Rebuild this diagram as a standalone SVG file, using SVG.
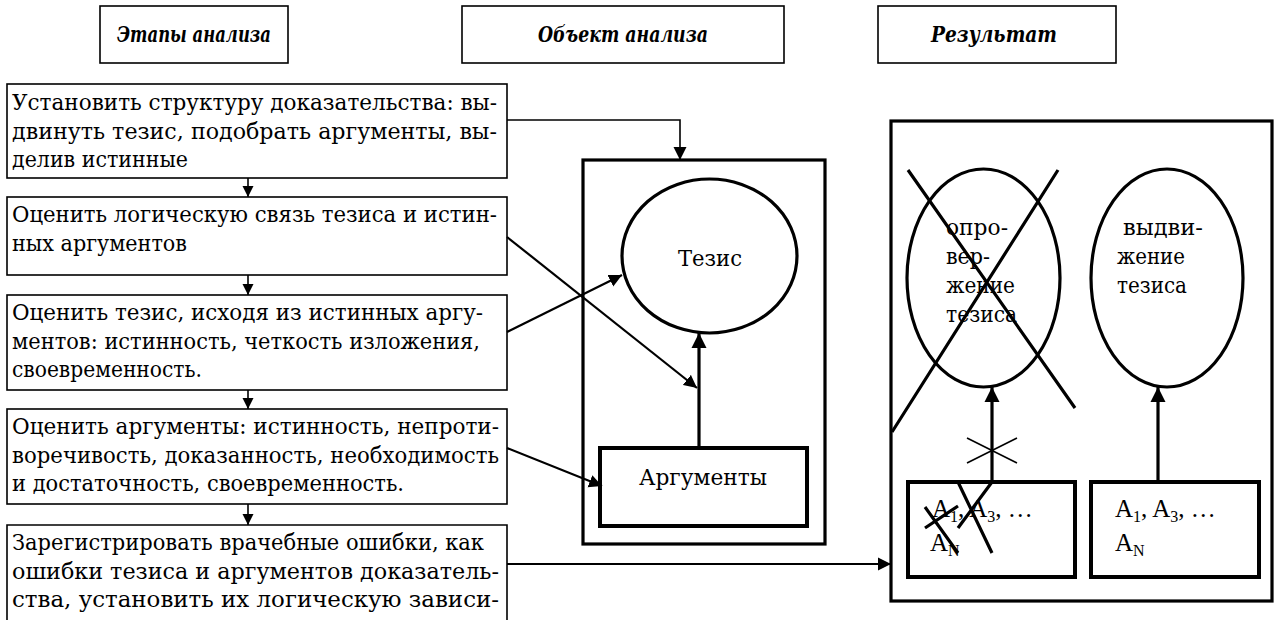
<svg xmlns="http://www.w3.org/2000/svg" width="1275" height="620" viewBox="0 0 1275 620" font-family="'DejaVu Serif', serif">
<style>
text{font-family:'DejaVu Serif','Liberation Serif',serif;fill:#000}
.t{font-size:22px}
.h{font-size:22px;font-weight:bold;font-style:italic;text-anchor:middle}
.c{text-anchor:middle}
.lat{font-family:'Liberation Serif','DejaVu Serif',serif;font-size:25px}
.sub{font-size:16px}
.thin{fill:none;stroke:#000;stroke-width:1.6}
.mid{fill:none;stroke:#000;stroke-width:2.2}
.thick{fill:none;stroke:#000;stroke-width:3.2}
.bold{fill:none;stroke:#000;stroke-width:4}
</style>
<defs>
<marker id="s" markerUnits="userSpaceOnUse" markerWidth="12" markerHeight="12" viewBox="0 0 12 12" refX="11" refY="6" orient="auto"><path d="M0,0.5 L11,6 L0,11.5 Z" fill="#000"/></marker>
<marker id="a" markerUnits="userSpaceOnUse" markerWidth="14" markerHeight="14" viewBox="0 0 14 14" refX="13" refY="7" orient="auto"><path d="M0,0.5 L13,7 L0,13.5 Z" fill="#000"/></marker>
<marker id="b" markerUnits="userSpaceOnUse" markerWidth="16" markerHeight="16" viewBox="0 0 16 16" refX="15" refY="8" orient="auto"><path d="M0,0.5 L15,8 L0,15.5 Z" fill="#000"/></marker>
</defs>

<g id="header-stages"><rect class="thin" x="100" y="6" width="188" height="57"/><text class="h" x="194" y="42" textLength="154" lengthAdjust="spacingAndGlyphs">Этапы анализа</text></g>
<g id="header-object"><rect class="thin" x="462" y="6" width="322" height="57"/><text class="h" x="623" y="42" textLength="170" lengthAdjust="spacingAndGlyphs">Объект анализа</text></g>
<g id="header-result"><rect class="thin" x="878" y="6" width="238" height="57"/><text class="h" x="994" y="42" textLength="126" lengthAdjust="spacingAndGlyphs">Результат</text></g>

<g id="step1"><rect class="thin" x="7" y="84" width="500" height="94"/>
<text class="t" x="12" y="110" textLength="485" lengthAdjust="spacingAndGlyphs">Установить структуру доказательства: вы-</text>
<text class="t" x="12" y="138.5" textLength="485" lengthAdjust="spacingAndGlyphs">двинуть тезис, подобрать аргументы, вы-</text>
<text class="t" x="12" y="167" textLength="176" lengthAdjust="spacingAndGlyphs">делив истинные</text></g>

<g id="step2"><rect class="thin" x="7" y="197" width="500" height="78"/>
<text class="t" x="12" y="222" textLength="485" lengthAdjust="spacingAndGlyphs">Оценить логическую связь тезиса и истин-</text>
<text class="t" x="12" y="250.5" textLength="175" lengthAdjust="spacingAndGlyphs">ных аргументов</text></g>

<g id="step3"><rect class="thin" x="7" y="295" width="500" height="95"/>
<text class="t" x="12" y="320" textLength="471" lengthAdjust="spacingAndGlyphs">Оценить тезис, исходя из истинных аргу-</text>
<text class="t" x="12" y="348.5" textLength="468" lengthAdjust="spacingAndGlyphs">ментов: истинность, четкость изложения,</text>
<text class="t" x="12" y="377" textLength="190" lengthAdjust="spacingAndGlyphs">своевременность.</text></g>

<g id="step4"><rect class="thin" x="7" y="409" width="500" height="95"/>
<text class="t" x="12" y="434" textLength="487" lengthAdjust="spacingAndGlyphs">Оценить аргументы: истинность, непроти-</text>
<text class="t" x="12" y="462.5" textLength="487" lengthAdjust="spacingAndGlyphs">воречивость, доказанность, необходимость</text>
<text class="t" x="12" y="491" textLength="392" lengthAdjust="spacingAndGlyphs">и достаточность, своевременность.</text></g>

<g id="step5"><path class="thin" d="M7,625 V525 H507 V625"/>
<text class="t" x="12" y="550" textLength="472" lengthAdjust="spacingAndGlyphs">Зарегистрировать врачебные ошибки, как</text>
<text class="t" x="12" y="578.5" textLength="487" lengthAdjust="spacingAndGlyphs">ошибки тезиса и аргументов доказатель-</text>
<text class="t" x="12" y="607" textLength="487" lengthAdjust="spacingAndGlyphs">ства, установить их логическую зависи-</text></g>

<g id="object-frame"><rect class="thick" x="583" y="160" width="242" height="384"/></g>
<g id="thesis"><ellipse class="thick" cx="709.5" cy="256" rx="87.5" ry="77"/><text class="t c" x="710" y="266" textLength="64" lengthAdjust="spacingAndGlyphs">Тезис</text></g>
<g id="arguments"><rect class="bold" x="600" y="448" width="207" height="78"/><text class="t c" x="703" y="485" textLength="128" lengthAdjust="spacingAndGlyphs">Аргументы</text></g>

<g id="result-frame"><rect class="thick" x="891" y="121" width="381" height="480"/></g>
<g id="refutation"><ellipse class="thick" cx="983.5" cy="278" rx="76.5" ry="109"/>
<text class="t" x="946" y="235" textLength="62" lengthAdjust="spacingAndGlyphs">опро-</text>
<text class="t" x="946" y="264" textLength="44" lengthAdjust="spacingAndGlyphs">вер-</text>
<text class="t" x="946" y="293" textLength="69" lengthAdjust="spacingAndGlyphs">жение</text>
<text class="t" x="946" y="322" textLength="71" lengthAdjust="spacingAndGlyphs">тезиса</text>
<path class="thick" d="M908,170 L1075,408 M1058,170 L892,432"/></g>
<g id="advance"><ellipse class="thick" cx="1167" cy="278" rx="76" ry="109"/>
<text class="t" x="1123" y="235" textLength="80" lengthAdjust="spacingAndGlyphs">выдви-</text>
<text class="t" x="1117" y="264" textLength="68" lengthAdjust="spacingAndGlyphs">жение</text>
<text class="t" x="1117" y="293" textLength="70" lengthAdjust="spacingAndGlyphs">тезиса</text></g>
<g id="args-false"><rect class="bold" x="908" y="482" width="167" height="95"/>
<text class="lat" x="932" y="517">A<tspan class="sub" dy="5">1</tspan><tspan dy="-5">, A</tspan><tspan class="sub" dy="5">3</tspan><tspan dy="-5">, …</tspan></text>
<text class="lat" x="930" y="551">A<tspan class="sub" dy="5">N</tspan></text>
<path class="thick" d="M925,507 L958,553 M925,528 L958,506 M958,482 L992,553 M992,482 L958,528"/></g>
<g id="args-true"><rect class="bold" x="1091" y="482" width="168" height="95"/>
<text class="lat" x="1115" y="517">A<tspan class="sub" dy="5">1</tspan><tspan dy="-5">, A</tspan><tspan class="sub" dy="5">3</tspan><tspan dy="-5">, …</tspan></text>
<text class="lat" x="1115" y="551">A<tspan class="sub" dy="5">N</tspan></text></g>

<g id="connectors">
<path class="thin" d="M248,178 V197" marker-end="url(#s)"/>
<path class="thin" d="M248,275 V295" marker-end="url(#s)"/>
<path class="thin" d="M248,390 V409" marker-end="url(#s)"/>
<path class="thin" d="M248,504 V525" marker-end="url(#s)"/>
<path class="thin" d="M507,120 H680 V160" marker-end="url(#a)"/>
<path class="mid" d="M507,237 L697,388" marker-end="url(#a)"/>
<path class="mid" d="M507,332 L622,275" marker-end="url(#a)"/>
<path class="mid" d="M507,448 L602,486" marker-end="url(#a)"/>
<path class="mid" d="M507,564 L891,564" marker-end="url(#a)"/>
<path class="thick" d="M699,448 V333" marker-end="url(#b)"/>
<path class="thick" d="M992,482 V387" marker-end="url(#b)"/>
<path class="thick" d="M1158,482 V387" marker-end="url(#b)"/>
<path class="thin" d="M967,438 L1017,463 M967,463 L1017,438"/>
</g>
</svg>
